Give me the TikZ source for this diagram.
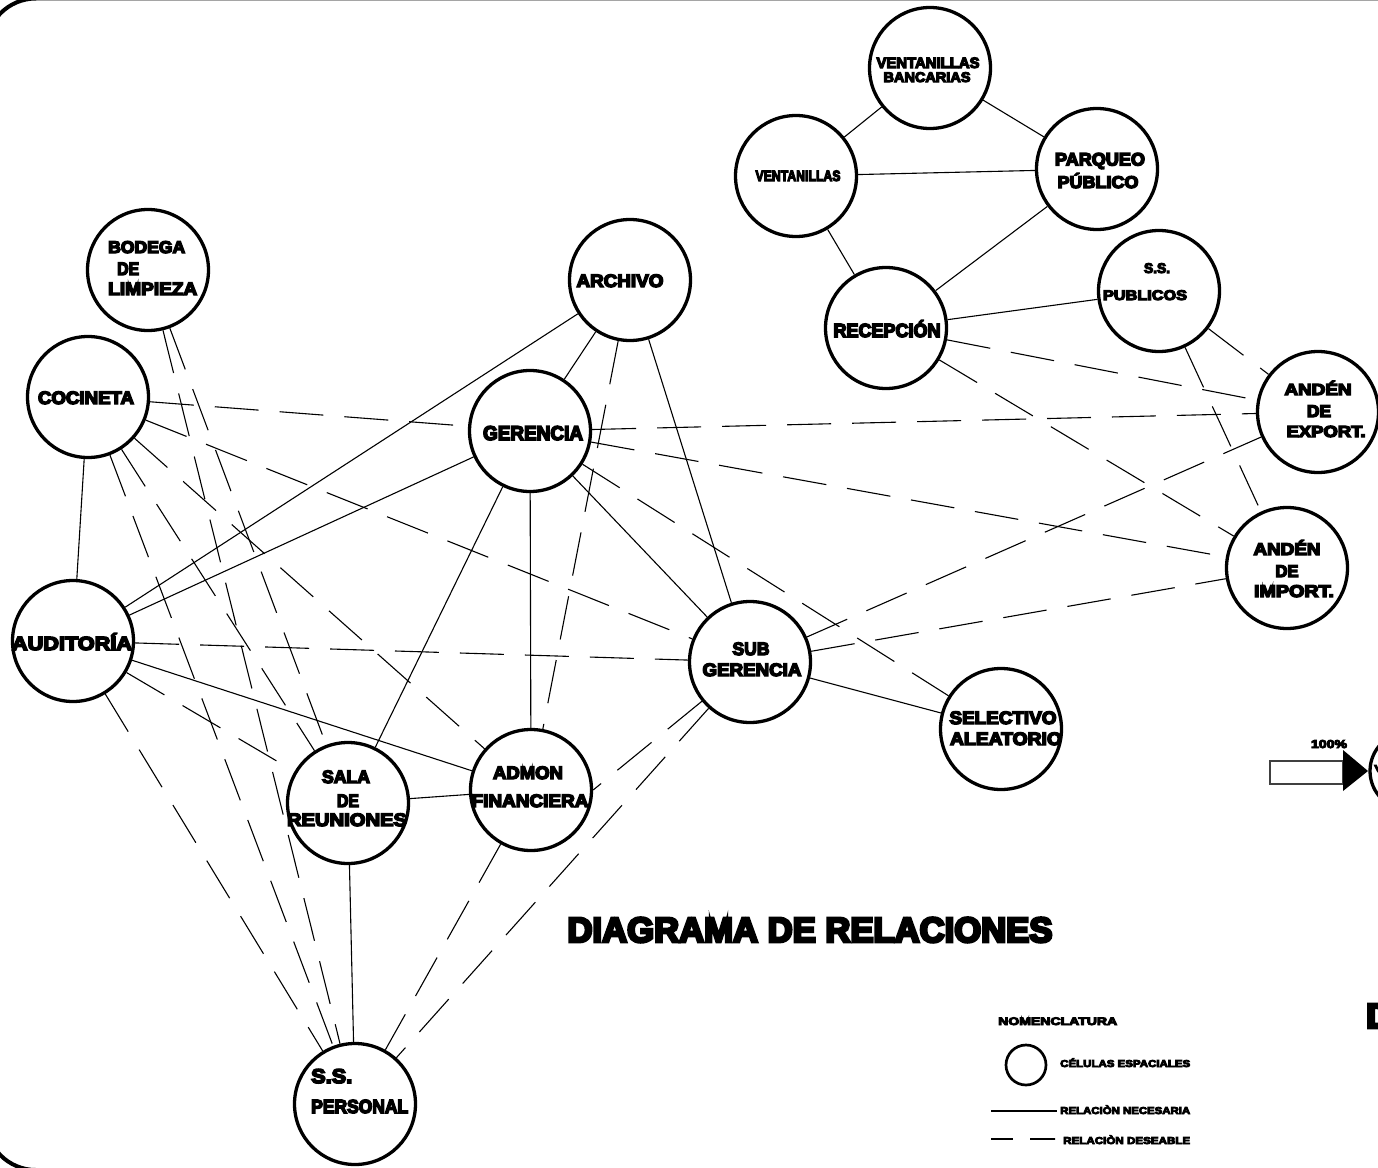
\documentclass[tikz,border=0pt]{standalone}
\usepackage{fontspec}
\usepackage{graphicx}
\newfontfamily\hv[FakeBold=8]{Liberation Sans Bold}
\newcommand\tx[3]{\resizebox{#1pt}{\height}{\hv\fontsize{#2pt}{#2pt}\selectfont #3}}
\begin{document}
\begin{tikzpicture}[x=1pt,y=-1pt,
  cell/.style={circle,draw,line width=3.3pt,minimum size=121pt,inner sep=0pt},
  nec/.style={line width=1.1pt},
  des/.style={line width=1.1pt,dash pattern=on 44pt off 21pt},
  lb/.style={inner sep=0pt,anchor=base},
  lbw/.style={inner sep=0pt,anchor=base west}]
\useasboundingbox (0,0) rectangle (1378,1167);
\fill[white] (0,0) rectangle (1378,1167);
% frame
\draw[line width=4pt,rounded corners=50pt] (-14,-1.5) rectangle (1500,1170);
% cells
\node[cell] (vb) at (930,68) {};
\node[cell] (vent) at (796,176) {};
\node[cell] (parq) at (1097,169) {};
\node[cell] (recep) at (886,328) {};
\node[cell] (sspub) at (1159,291) {};
\node[cell] (exp) at (1318,412) {};
\node[cell] (imp) at (1287,568) {};
\node[cell] (bod) at (148,270) {};
\node[cell] (coc) at (88,397) {};
\node[cell] (arch) at (630,280) {};
\node[cell] (ger) at (530,431) {};
\node[cell] (aud) at (73,641) {};
\node[cell] (sub) at (750,662) {};
\node[cell] (sel) at (1001,729) {};
\node[cell] (sala) at (348,803) {};
\node[cell] (adm) at (531,790) {};
\node[cell] (ssp) at (355,1104) {};
% labels
\node[lb] (t1) at (928,68) {\tx{103}{15}{VENTANILLAS}};
\node[lb] (t2) at (927,82) {\tx{87}{14}{BANCARIAS}};
\node[lb] (t3) at (798,181) {\tx{85}{15}{VENTANILLAS}};
\node[lb] (t4) at (1100,165.5) {\tx{90}{18}{PARQUEO}};
\node[lb] (t5) at (1098,188) {\tx{81}{17}{PÚBLICO}};
\node[lb] (t6) at (887,337) {\tx{107}{19}{RECEPCIÓN}};
\node[lb] (t7) at (1157,273) {\tx{26}{14}{S.S.}};
\node[lb] (t8) at (1145,300) {\tx{84}{14}{PUBLICOS}};
\node[lb] (t9) at (1318,395) {\tx{67}{16}{ANDÉN}};
\node[lb] (t10) at (1319,417) {\tx{24}{17}{DE}};
\node[lb] (t11) at (1326,437) {\tx{79}{16}{EXPORT.}};
\node[lb] (t12) at (1287,555) {\tx{67}{17}{ANDÉN}};
\node[lb] (t13) at (1287,577) {\tx{23}{17}{DE}};
\node[lb] (t14) at (1294,597) {\tx{80}{17}{IMPORT.}};
\node[lbw] (t15) at (108,253) {\tx{77}{17}{BODEGA}};
\node[lbw] (t16) at (117,275) {\tx{22}{18}{DE}};
\node[lbw] (t17) at (108,295) {\tx{89}{18}{LIMPIEZA}};
\node[lb] (t18) at (86,404) {\tx{96}{18}{COCINETA}};
\node[lb] (t19) at (620,287) {\tx{87}{18}{ARCHIVO}};
\node[lb] (t20) at (533,440) {\tx{100}{20}{GERENCIA}};
\node[lb] (t21) at (72,650) {\tx{120}{19}{AUDITORÍA}};
\node[lb] (t22) at (751,655) {\tx{37}{18}{SUB}};
\node[lb] (t23) at (752,676) {\tx{99}{18}{GERENCIA}};
\node[lb] (t24) at (1003,724) {\tx{107}{18}{SELECTIVO}};
\node[lb] (t25) at (1006,745) {\tx{112}{18}{ALEATORIO}};
\node[lb] (t26) at (346,783) {\tx{48}{18}{SALA}};
\node[lb] (t27) at (348,807) {\tx{22}{18}{DE}};
\node[lb] (t28) at (347,826) {\tx{120}{18}{REUNIONES}};
\node[lb] (t29) at (528,779) {\tx{70}{18}{ADMON}};
\node[lb] (t30) at (530,807) {\tx{117}{18}{FINANCIERA}};
\node[lbw] (t31) at (311,1083) {\tx{41}{20}{S.S.}};
\node[lbw] (t32) at (311,1113) {\tx{97}{19}{PERSONAL}};
% title
\node[lb] (title) at (810,942) {\tx{485}{35}{DIAGRAMA DE RELACIONES}};
\node[lbw] (dd) at (1366,1028) {{\hv\fontsize{35pt}{35pt}\selectfont D}};
% arrow element at right edge
\draw[line width=1.3pt,draw=black!75] (1270,761) rectangle (1343,784);
\fill (1343,750) -- (1368,771) -- (1343,791) -- cycle;
\node[lb] (pct) at (1329,748) {\tx{36}{11.5}{100\%}};
\node[circle,draw,line width=3.3pt,minimum size=78pt,inner sep=0pt] (vx) at (1409,771) {};
\node[lbw] (tv) at (1374,772) {\tx{9}{10}{V}};
% legend
\node[lbw] (nom) at (998,1025) {\tx{119}{11}{NOMENCLATURA}};
\node[circle,draw,line width=2.7pt,minimum size=40pt,inner sep=0pt] (lc) at (1026,1065) {};
\node[lbw] (lt1) at (1060,1067) {\tx{130}{10}{CÉLULAS ESPACIALES}};
\coordinate (ln1a) at (991,1111);
\coordinate (ln1b) at (1057,1111);
\draw[line width=1.1pt] (ln1a) -- (ln1b);
\node[lbw] (lt2) at (1060,1114) {\tx{130}{10}{RELACIÒN NECESARIA}};
\coordinate (ln2a) at (991,1139);
\coordinate (ln2b) at (1055,1139);
\draw[line width=1.1pt,dash pattern=on 22pt off 17pt on 25pt off 0pt] (ln2a) -- (ln2b);
\node[lbw] (lt3) at (1063,1144) {\tx{127}{10}{RELACIÒN DESEABLE}};
% necessary relations
\foreach \a/\b in {vb/vent,vb/parq,vent/parq,vent/recep,parq/recep,recep/sspub,
  arch/aud,arch/ger,arch/sub,ger/aud,ger/sala,ger/adm,ger/sub,coc/aud,aud/adm,
  sala/adm,sala/ssp,sub/sel}
  \draw[nec] (\a) -- (\b);
% desirable relations
\foreach \a/\b in {recep/exp,recep/imp,sspub/exp,sspub/imp,ger/exp,ger/imp,ger/sel,
  sub/exp,sub/imp,coc/ger,coc/sub,coc/adm,coc/sala,coc/ssp,bod/sala,bod/ssp,
  aud/sala,aud/ssp,aud/sub,arch/adm,sub/ssp,adm/ssp}
  \draw[des] (\a) -- (\b);
\draw[des] (sub) -- (adm.east);
\end{tikzpicture}
\end{document}
